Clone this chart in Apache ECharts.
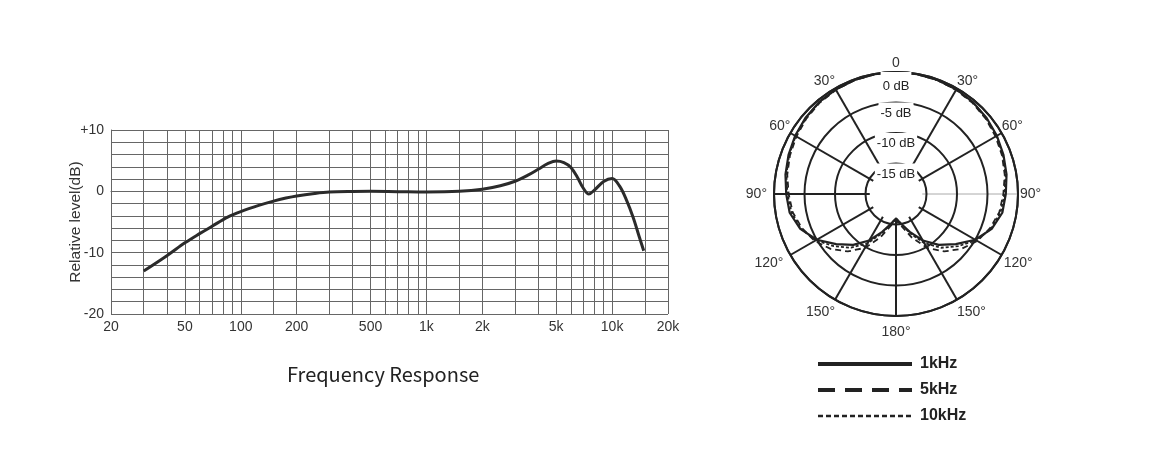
<!DOCTYPE html>
<html><head><meta charset="utf-8">
<script src="https://cdn.jsdelivr.net/npm/echarts@6/dist/echarts.min.js"></script>
<style>html,body{margin:0;padding:0;background:#fff}#c{width:1169px;height:451px}</style>
</head><body><div id="c"></div>
<script>
// ---- Frequency response (left) ----
const freqHz  = [30, 40, 50, 60, 70, 85, 100, 125, 150, 175, 200, 250, 300, 400, 500, 700, 1000, 1500, 2000, 2500, 3000, 3500, 4000, 4500, 5000, 5500, 6000, 6500, 7000, 7500, 8000, 9000, 10000, 11000, 12000, 13000, 14000, 14800];
const levelDb = [-13.0, -10.5, -8.4, -6.9, -5.7, -4.2, -3.3, -2.3, -1.6, -1.1, -0.75, -0.35, -0.12, -0.02, 0, -0.05, -0.1, 0, 0.33, 0.9, 1.64, 2.6, 3.6, 4.5, 4.95, 4.7, 3.9, 2.3, 0.5, -0.45, 0.15, 1.6, 2.1, 0.8, -1.55, -4.3, -7.4, -9.7];
const xLabelValues = [20, 50, 100, 200, 500, 1000, 2000, 5000, 10000, 20000];
const xGridValues = [20, 30, 40, 50, 60, 70, 80, 90, 100, 150, 200, 300, 400, 500, 600, 700, 800, 900, 1000, 1500, 2000, 3000, 4000, 5000, 6000, 7000, 8000, 9000, 10000, 15000, 20000];
const yLabelValues = [-20, -10, 0, 10];

// ---- Polar pattern (right) ----
const polarAngles = [0,10,20,30,40,50,60,70,80,90,100,110,120,130,140,150,160,170,180,190,200,210,220,230,240,250,260,270,280,290,300,310,320,330,340,350,360];
const level1k  = [0,-0.05,-0.1,-0.2,-0.35,-0.6,-0.9,-1.25,-1.6,-2.0,-2.3,-3.3,-5.0,-7.2,-9.1,-11.2,-13.4,-15.0,-16.0,-15.0,-13.4,-11.2,-9.1,-7.2,-5.0,-3.3,-2.3,-2.0,-1.6,-1.25,-0.9,-0.6,-0.35,-0.2,-0.1,-0.05,0];
const level5k  = [0,-0.05,-0.15,-0.3,-0.5,-0.8,-1.15,-1.5,-1.9,-2.4,-2.8,-3.6,-4.6,-6.0,-7.7,-9.8,-12.4,-14.6,-15.7,-14.6,-12.4,-9.8,-7.7,-6.0,-4.6,-3.6,-2.8,-2.4,-1.9,-1.5,-1.15,-0.8,-0.5,-0.3,-0.15,-0.05,0];
const level10k = [0,-0.05,-0.12,-0.25,-0.4,-0.7,-1.0,-1.35,-1.75,-2.2,-2.6,-3.4,-4.8,-6.7,-8.5,-10.7,-13.1,-15.0,-16.0,-15.0,-13.1,-10.7,-8.5,-6.7,-4.8,-3.4,-2.6,-2.2,-1.75,-1.35,-1.0,-0.7,-0.4,-0.25,-0.12,-0.05,0];
const spokeAngles = [30, 60, 90, 120, 150, 180, 210, 240, 270, 300, 330];
const ringValues = [-15, -10, -5, 0];
const seriesNames = ['1kHz', '5kHz', '10kHz'];

const FONT = '"Liberation Sans", Arial, sans-serif';
const dark = '#222';

function pairs(levels) { return polarAngles.map((a, i) => [levels[i], a]); }

// per-label nudges for the angle labels (style only)
const angleRich = {
  a0:   { padding: [0, 0, 2, 0] },
  a30:  { padding: [0, 0, 0, 0] },
  a330: { padding: [0, 0, 0, 0] },
  a60:  { padding: [0, 0, 0, 0] },
  a300: { padding: [0, 0, 0, 0] },
  a90:  { padding: [0, 0, 0, 2] },
  a270: { padding: [0, 7, 0, 0] },
  a120: { padding: [1, 0, 0, 2] },
  a240: { padding: [1, 7, 0, 0] },
  a150: { padding: [5, 0, 0, 0] },
  a210: { padding: [5, 0, 0, 0] },
  a180: { padding: [9, 0, 0, 0] }
};
Object.keys(angleRich).forEach(k => Object.assign(angleRich[k], { fontSize: 14, color: '#333', fontFamily: FONT }));

const spokeSeries = spokeAngles.map(a => ({
  type: 'line', coordinateSystem: 'polar', polarIndex: 0, silent: true, symbol: 'none',
  data: [[-15.7, a], [0, a]],
  lineStyle: { color: a === 90 ? '#aaa' : dark, width: a === 90 ? 1 : 2 },
  z: 3
}));

const chart = echarts.init(document.getElementById('c'), null, { renderer: 'canvas' });
chart.setOption({
  animation: false,
  backgroundColor: '#fff',
  title: {
    text: 'Frequency Response', left: 282, top: 359,
    textStyle: { fontFamily: '"Noto Sans CJK SC", "Noto Sans", sans-serif', fontSize: 20, fontWeight: 'normal', color: '#222' }
  },
  grid: { left: 111, top: 130, width: 557, height: 184 },
  xAxis: {
    type: 'log', logBase: 10, min: 20, max: 20000,
    axisLine: { show: true, lineStyle: { color: '#666', width: 1 } },
    axisTick: { show: false, customValues: xGridValues },
    splitLine: { show: true, lineStyle: { color: '#666', width: 1 } },
    axisLabel: {
      customValues: xLabelValues, margin: 6, fontSize: 14, color: '#333', fontFamily: FONT,
      formatter: v => { const r = Math.round(v); return r >= 1000 ? (r / 1000) + 'k' : String(r); }
    }
  },
  yAxis: {
    type: 'value', min: -20, max: 10, interval: 2,
    axisLine: { show: true, lineStyle: { color: '#666', width: 1 } },
    axisTick: { show: false },
    splitLine: { show: true, lineStyle: { color: '#666', width: 1 } },
    axisLabel: {
      margin: 7, fontSize: 14, color: '#333', fontFamily: FONT,
      formatter: v => yLabelValues.indexOf(v) >= 0 ? (v > 0 ? '+' + v : String(v)) : ''
    },
    name: 'Relative level(dB)', nameLocation: 'middle', nameGap: 27, nameMoveOverlap: false,
    nameTextStyle: { fontSize: 15.5, color: '#333', fontFamily: FONT }
  },
  polar: { center: [896, 194], radius: 122 },
  angleAxis: {
    type: 'value', min: 0, max: 360, interval: 30, startAngle: 90, clockwise: true,
    axisLine: { show: true, lineStyle: { color: dark, width: 2 } },
    axisTick: { show: false },
    splitLine: { show: false },
    axisLabel: {
      margin: 0, fontSize: 14, color: '#333', fontFamily: FONT,
      formatter: v => { const d = v <= 180 ? v : 360 - v; const key = 'a' + Math.round(v % 360); return '{' + key + '|' + (d === 0 ? '0' : d + '°') + '}'; },
      rich: angleRich
    }
  },
  radiusAxis: {
    type: 'value', min: -20, max: 0, interval: 5,
    axisLine: { show: false }, axisTick: { show: false },
    splitLine: { show: true, lineStyle: { color: dark, width: 2 } },
    axisLabel: {
      showMinLabel: false, margin: 0, align: 'center', verticalAlign: 'top',
      fontSize: 13, color: '#222', fontFamily: FONT,
      backgroundColor: '#fff', padding: [4, 2, 1, 2],
      formatter: v => ringValues.indexOf(v) >= 0 ? (v === 0 ? '{z|0 dB}' : v + ' dB') : '',
      rich: { z: { padding: [4, 0, 0, 0], fontSize: 13, color: '#222', fontFamily: FONT } }
    },
    z: 10
  },
  legend: {
    orient: 'vertical', left: 816, top: 356, padding: 0, itemWidth: 94, itemHeight: 16, itemGap: 10,
    itemStyle: { opacity: 0 },
    textStyle: { fontSize: 16, fontWeight: 'bold', color: '#222', fontFamily: FONT, padding: [0, 0, 0, 3] },
    data: [
      { name: '1kHz', lineStyle: { width: 4, type: 'solid' } },
      { name: '5kHz', lineStyle: { width: 4, type: [17, 10] } },
      { name: '10kHz', lineStyle: { width: 2.5, type: [5, 3] } }
    ],
    selectedMode: false
  },
  series: [
    {
      type: 'line', xAxisIndex: 0, yAxisIndex: 0, silent: true, symbol: 'none', smooth: 0.35,
      data: freqHz.map((f, i) => [f, levelDb[i]]),
      lineStyle: { color: '#2b2b2b', width: 3 }, z: 5
    },
    ...spokeSeries,
    { name: seriesNames[0], type: 'line', coordinateSystem: 'polar', symbol: 'none', silent: true,
      data: pairs(level1k), lineStyle: { color: dark, width: 2.2, type: 'solid' }, itemStyle: { color: dark }, z: 4 },
    { name: seriesNames[1], type: 'line', coordinateSystem: 'polar', symbol: 'none', silent: true,
      data: pairs(level5k), lineStyle: { color: dark, width: 1.8, type: [6, 4] }, itemStyle: { color: dark }, z: 4 },
    { name: seriesNames[2], type: 'line', coordinateSystem: 'polar', symbol: 'none', silent: true,
      data: pairs(level10k), lineStyle: { color: dark, width: 1.8, type: [3, 2] }, itemStyle: { color: dark }, z: 4 }
  ]
});
</script>
</body></html>
